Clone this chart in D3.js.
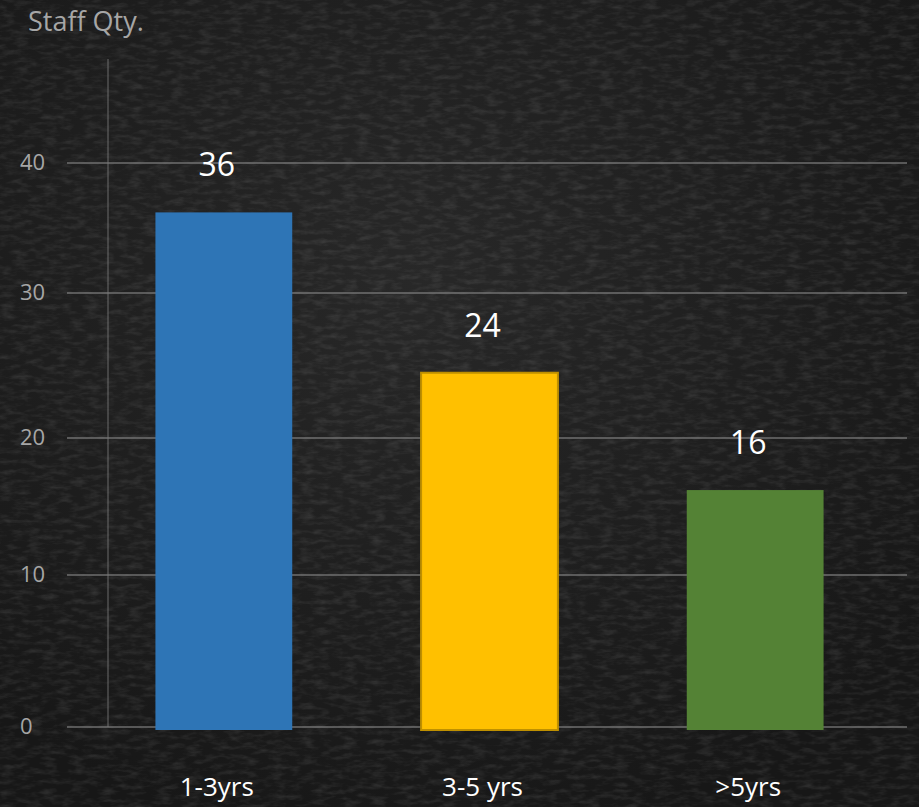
<!DOCTYPE html>
<html>
<head>
<meta charset="utf-8">
<script src="https://cdnjs.cloudflare.com/ajax/libs/d3/7.8.5/d3.min.js"></script>
<style>
  html, body { margin: 0; padding: 0; background: #1d1d1d; }
  svg { display: block; }
</style>
</head>
<body>
<div class="js-chart"></div>
<script>
'use strict';

// data
const categories = ["1-3yrs", "3-5 yrs", ">5yrs"];
const barValues = [36.2, 24.5, 16.2];
const valueLabels = ["36", "24", "16"];
const tickValues = [0, 10, 20, 30, 40];
const barColors = ["#2E75B6", "#FFC000", "#548235"];
const barStrokes = ["none", "#BF9000", "none"];

const svgWidth = 919;
const svgHeight = 807;
const fontFamily = "'Open Sans', 'Noto Sans', sans-serif";

const svg = d3.select(".js-chart")
    .append("svg")
    .attr("width", svgWidth)
    .attr("height", svgHeight);

// textured dark background
const defs = svg.append("defs");
const filter = defs.append("filter")
    .attr("id", "grain")
    .attr("x", 0).attr("y", 0)
    .attr("width", "100%").attr("height", "100%");
filter.append("feTurbulence")
    .attr("type", "fractalNoise")
    .attr("baseFrequency", "0.07 0.2")
    .attr("numOctaves", 3)
    .attr("seed", 7)
    .attr("result", "noise");
filter.append("feColorMatrix")
    .attr("in", "noise")
    .attr("type", "matrix")
    .attr("values", "0 0 0 0 0.5  0 0 0 0 0.5  0 0 0 0 0.5  0 0 0 1.0 -0.42");

const glow = defs.append("radialGradient")
    .attr("id", "glow")
    .attr("cx", "45%").attr("cy", "35%").attr("r", "70%");
glow.append("stop").attr("offset", "0%").attr("stop-color", "#282828");
glow.append("stop").attr("offset", "100%").attr("stop-color", "#171717");

svg.append("rect")
    .attr("width", svgWidth)
    .attr("height", svgHeight)
    .attr("fill", "url(#glow)");
svg.append("rect")
    .attr("width", svgWidth)
    .attr("height", svgHeight)
    .attr("fill", "#000")
    .attr("filter", "url(#grain)")
    .attr("opacity", 0.28);

// scales (the gridlines in the source are not evenly spaced)
const yScale = d3.scaleLinear()
    .domain(tickValues)
    .range([727, 575, 438, 293, 163]);

const xScale = d3.scaleBand()
    .domain(categories)
    .range([91, 888])
    .paddingInner(0.485)
    .paddingOuter(0.2425);

const gridLeft = 67;
const gridRight = 907;
const labelShift = -7;

// gridlines
svg.selectAll("line.grid")
    .data(tickValues)
    .enter()
    .append("line")
    .attr("class", "grid")
    .attr("x1", gridLeft)
    .attr("x2", gridRight)
    .attr("y1", d => yScale(d))
    .attr("y2", d => yScale(d))
    .attr("stroke", "#8a8a8a")
    .attr("stroke-opacity", 0.75)
    .attr("stroke-width", 1.3);

// vertical axis line
svg.append("line")
    .attr("x1", 108)
    .attr("x2", 108)
    .attr("y1", 59)
    .attr("y2", yScale(0))
    .attr("stroke", "#7a7a7a")
    .attr("stroke-opacity", 0.7)
    .attr("stroke-width", 1.2);

// tick labels
svg.selectAll("text.tick")
    .data(tickValues)
    .enter()
    .append("text")
    .attr("class", "tick")
    .text(d => d)
    .attr("x", 20)
    .attr("y", d => yScale(d) + 7)
    .attr("font-family", fontFamily)
    .attr("font-size", "22px")
    .attr("fill", "#a6a6a6");

// axis title
svg.append("text")
    .text("Staff Qty.")
    .attr("x", 28)
    .attr("y", 31)
    .attr("font-family", fontFamily)
    .attr("font-size", "27px")
    .attr("fill", "#a6a6a6");

// bars
svg.selectAll("rect.bar")
    .data(barValues)
    .enter()
    .append("rect")
    .attr("class", "bar")
    .attr("x", (d, i) => xScale(categories[i]))
    .attr("y", d => yScale(d))
    .attr("width", xScale.bandwidth())
    .attr("height", d => yScale(0) - yScale(d) + 3)
    .attr("fill", (d, i) => barColors[i])
    .attr("stroke", (d, i) => barStrokes[i])
    .attr("stroke-width", 2);

// value labels
svg.selectAll("text.value")
    .data(barValues)
    .enter()
    .append("text")
    .attr("class", "value")
    .text((d, i) => valueLabels[i])
    .attr("text-anchor", "middle")
    .attr("x", (d, i) => xScale(categories[i]) + xScale.bandwidth() / 2 + labelShift)
    .attr("y", d => yScale(d) - 36)
    .attr("font-family", fontFamily)
    .attr("font-size", "32px")
    .attr("fill", "#ffffff");

// category labels
svg.selectAll("text.category")
    .data(categories)
    .enter()
    .append("text")
    .attr("class", "category")
    .text(d => d)
    .attr("text-anchor", "middle")
    .attr("x", d => xScale(d) + xScale.bandwidth() / 2 + labelShift)
    .attr("y", 796)
    .attr("font-family", fontFamily)
    .attr("font-size", "26px")
    .attr("fill", "#ffffff");
</script>
</body>
</html>
